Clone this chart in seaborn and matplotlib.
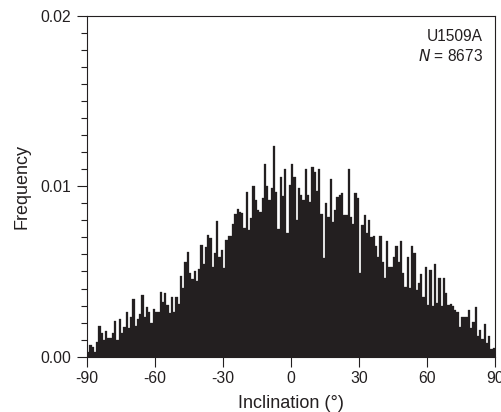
import numpy as np
import pandas as pd
import matplotlib
matplotlib.use("Agg")
import matplotlib.pyplot as plt
from matplotlib.ticker import MultipleLocator
import seaborn as sns

# Bin layout (1 degree bins from -90 to 90)
bin_start, bin_stop, bin_width = -90, 90, 1

# Relative frequency per bin, -90..0
freq_neg = [0.00029, 0.00068, 0.00059, 0.00029, 0.00084, 0.00180, 0.00141, 0.00098, 0.00152, 0.00108,
            0.00108, 0.00137, 0.00209, 0.00098, 0.00221, 0.00141, 0.00176, 0.00264, 0.00166, 0.00235,
            0.00336, 0.00180, 0.00221, 0.00250, 0.00362, 0.00235, 0.00291, 0.00264, 0.00196, 0.00278,
            0.00264, 0.00264, 0.00377, 0.00319, 0.00375, 0.00303, 0.00254, 0.00348, 0.00264, 0.00348,
            0.00309, 0.00473, 0.00405, 0.00557, 0.00612, 0.00489, 0.00456, 0.00502, 0.00446, 0.00516,
            0.00655, 0.00543, 0.00641, 0.00712, 0.00694, 0.00528, 0.00610, 0.00796, 0.00587, 0.00626,
            0.00518, 0.00684, 0.00710, 0.00710, 0.00778, 0.00835, 0.00864, 0.00850, 0.00841, 0.00753,
            0.00964, 0.00743, 0.00811, 0.01003, 0.00919, 0.00860, 0.00850, 0.00929, 0.01130, 0.01001,
            0.00919, 0.00987, 0.01238, 0.00964, 0.00751, 0.01056, 0.00940, 0.01099, 0.00723, 0.01007]

# Relative frequency per bin, 0..90
freq_pos = [0.01128, 0.01056, 0.00802, 0.00987, 0.00948, 0.00919, 0.01099, 0.00948, 0.00909, 0.01110,
            0.01085, 0.00972, 0.01099, 0.00835, 0.00577, 0.00903, 0.00821, 0.01040, 0.00792, 0.00860,
            0.00938, 0.00948, 0.00962, 0.00831, 0.00831, 0.01099, 0.00821, 0.00776, 0.00958, 0.00929,
            0.00489, 0.00772, 0.00831, 0.00723, 0.00802, 0.00704, 0.00708, 0.00649, 0.00587, 0.00708,
            0.00557, 0.00463, 0.00680, 0.00528, 0.00528, 0.00583, 0.00651, 0.00557, 0.00680, 0.00489,
            0.00411, 0.00587, 0.00401, 0.00651, 0.00606, 0.00391, 0.00430, 0.00485, 0.00352, 0.00528,
            0.00303, 0.00508, 0.00297, 0.00542, 0.00313, 0.00459, 0.00299, 0.00459, 0.00371, 0.00303,
            0.00307, 0.00297, 0.00274, 0.00264, 0.00176, 0.00235, 0.00235, 0.00235, 0.00274, 0.00166,
            0.00205, 0.00289, 0.00121, 0.00156, 0.00102, 0.00192, 0.00078, 0.00121, 0.00043, 0.00049]

x_ticks = [-90, -60, -30, 0, 30, 60, 90]
y_ticks = [0.0, 0.01, 0.02]
y_ticklabels = ["0.00", "0.01", "0.02"]
site_label = "U1509A"
n_label = "8673"

sns.set_style("ticks")
plt.rcParams["font.family"] = ["Liberation Sans", "DejaVu Sans"]

fig = plt.figure(figsize=(5.01, 4.12), dpi=100)
ax = fig.add_axes([0.1737, 0.1342, 0.8143, 0.8277])

centers = np.arange(bin_start, bin_stop, bin_width) + bin_width / 2.0
df = pd.DataFrame({"inclination": centers, "freq": freq_neg + freq_pos})

sns.histplot(data=df, x="inclination", weights="freq", binwidth=bin_width,
             binrange=(bin_start, bin_stop), stat="count",
             color="#231f20", alpha=1.0, edgecolor="#231f20", linewidth=0.2, ax=ax)

ax.set_xlim(-90, 90)
ax.set_ylim(0, 0.02)
ax.set_xticks(x_ticks)
ax.set_xticklabels([str(v) for v in x_ticks])
ax.set_yticks(y_ticks)
ax.set_yticklabels(y_ticklabels)
ax.yaxis.set_minor_locator(MultipleLocator(0.001))

for s in ax.spines.values():
    s.set_visible(True)
    s.set_linewidth(0.8)
    s.set_color("#231f20")

ax.tick_params(axis="both", which="major", direction="out", length=7, width=0.8,
               labelsize=11.3, colors="#231f20")
ax.tick_params(axis="x", which="major", pad=3.3)
ax.tick_params(axis="y", which="major", pad=4.5)
ax.tick_params(axis="y", which="minor", direction="out", length=4.5, width=0.8, colors="#231f20")
ax.tick_params(axis="x", which="minor", bottom=False)
ax.tick_params(top=False, right=False)

ax.set_xlabel("Inclination (°)", fontsize=13, labelpad=6.5, color="#231f20")
ax.set_ylabel("Frequency", fontsize=13, labelpad=7, color="#231f20")

ax.text(0.970, 0.940, site_label, transform=ax.transAxes, ha="right", va="center",
        fontsize=11.2, color="#231f20")
ax.text(0.970, 0.882, "$\\it{N}$ = " + n_label, transform=ax.transAxes, ha="right", va="center",
        fontsize=11.2, color="#231f20")

fig.savefig("out.png", dpi=100)
